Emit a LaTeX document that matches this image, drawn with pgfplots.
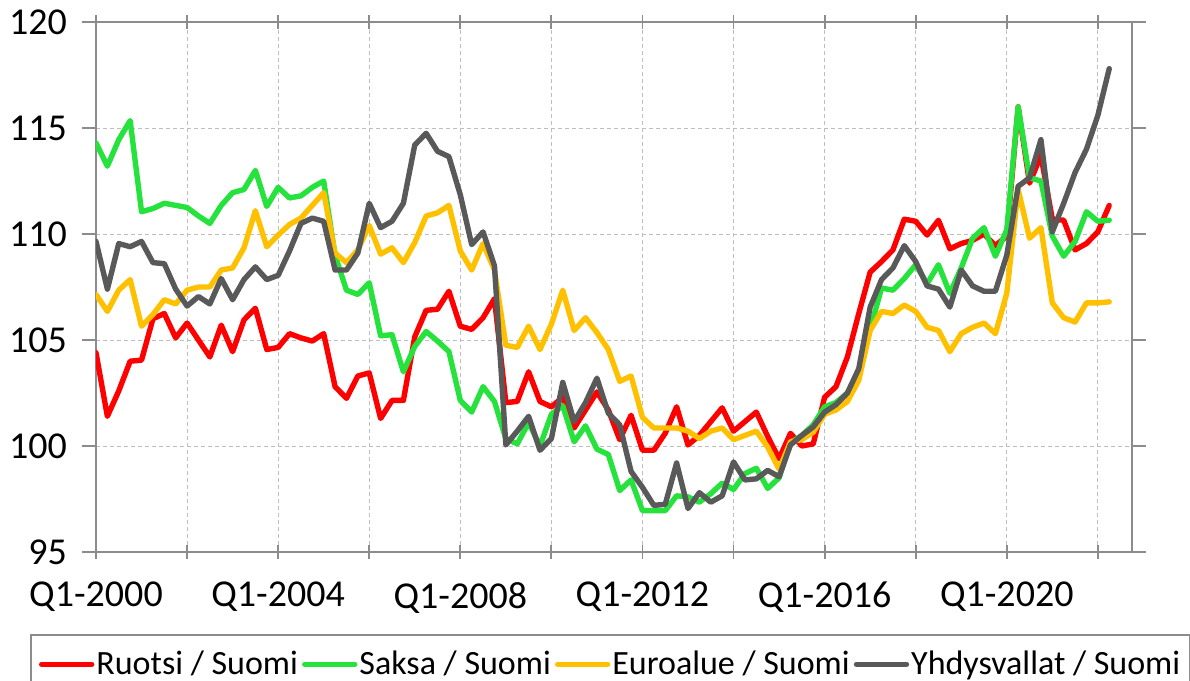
\documentclass[border=0pt]{standalone}
\usepackage{fontspec}
\setmainfont{Carlito}
\usepackage{pgfplots}
\usepackage{pgfplotstable}
\pgfplotsset{compat=1.18}
\definecolor{cR}{RGB}{255,0,0}
\definecolor{cG}{RGB}{38,226,60}
\definecolor{cY}{RGB}{255,192,0}
\definecolor{cK}{RGB}{89,89,89}
\definecolor{axgray}{RGB}{140,140,140}
\definecolor{gridgray}{RGB}{190,190,190}
\pgfplotstableread{
i R G Y K
0 104.4 114.3 107.15 109.65
1 101.4 113.2 106.35 107.4
2 102.6 114.45 107.35 109.55
3 104.0 115.35 107.85 109.4
4 104.05 111.05 105.65 109.65
5 106.0 111.2 106.2 108.65
6 106.25 111.45 106.9 108.6
7 105.1 111.35 106.7 107.4
8 105.8 111.25 107.35 106.6
9 105.0 110.85 107.5 107.05
10 104.2 110.5 107.5 106.7
11 105.7 111.35 108.3 107.9
12 104.45 111.95 108.4 106.9
13 105.95 112.1 109.35 107.85
14 106.5 113.0 111.1 108.45
15 104.55 111.3 109.4 107.85
16 104.65 112.2 109.95 108.05
17 105.3 111.7 110.45 109.2
18 105.1 111.8 110.75 110.5
19 104.95 112.2 111.35 110.75
20 105.3 112.5 111.95 110.6
21 102.8 109.0 109.1 108.3
22 102.25 107.35 108.65 108.3
23 103.3 107.15 109.25 109.1
24 103.45 107.7 110.4 111.45
25 101.3 105.2 109.05 110.3
26 102.15 105.25 109.35 110.6
27 102.15 103.5 108.65 111.45
28 105.15 104.7 109.6 114.2
29 106.4 105.4 110.85 114.75
30 106.45 104.95 111.0 113.9
31 107.3 104.45 111.35 113.65
32 105.65 102.15 109.2 111.85
33 105.5 101.6 108.3 109.5
34 106.05 102.8 109.55 110.1
35 106.95 102.1 108.3 108.5
36 102.05 100.35 104.75 100.05
37 102.1 100.1 104.65 100.7
38 103.5 101.1 105.65 101.4
39 102.1 100.0 104.55 99.8
40 101.85 101.5 105.75 100.35
41 102.3 101.9 107.35 103.0
42 100.85 100.2 105.45 101.15
43 101.7 100.95 106.05 102.05
44 102.55 99.85 105.35 103.2
45 101.7 99.6 104.55 101.55
46 100.3 97.9 103.05 101.0
47 101.45 98.4 103.3 98.8
48 99.8 96.95 101.35 98.05
49 99.8 96.95 100.85 97.2
50 100.6 96.95 100.85 97.25
51 101.85 97.65 100.85 99.2
52 100.05 97.6 100.7 97.05
53 100.5 97.35 100.35 97.8
54 101.15 97.75 100.7 97.35
55 101.8 98.25 100.85 97.65
56 100.7 97.95 100.3 99.25
57 101.15 98.7 100.5 98.4
58 101.6 98.95 100.7 98.45
59 100.45 98.0 99.95 98.85
60 99.4 98.5 98.9 98.55
61 100.6 100.15 100.2 100.05
62 100.0 100.5 100.3 100.5
63 100.1 101.0 100.65 100.9
64 102.3 101.85 101.5 101.6
65 102.8 102.05 101.7 101.95
66 104.2 102.5 102.1 102.5
67 106.25 103.45 103.1 103.65
68 108.2 105.5 105.45 106.55
69 108.7 107.45 106.35 107.85
70 109.25 107.35 106.25 108.4
71 110.7 107.9 106.65 109.45
72 110.6 108.55 106.35 108.7
73 109.95 107.65 105.6 107.55
74 110.65 108.55 105.45 107.4
75 109.3 107.2 104.45 106.55
76 109.55 108.4 105.3 108.3
77 109.7 109.8 105.6 107.55
78 110.0 110.3 105.8 107.3
79 109.45 108.95 105.3 107.3
80 109.9 110.2 107.2 109.0
81 116.0 116.0 112.1 112.25
82 112.4 112.65 109.8 112.65
83 113.7 112.5 110.3 114.45
84 110.7 109.9 106.75 110.1
85 110.65 108.95 106.05 111.45
86 109.25 109.65 105.85 112.9
87 109.55 111.05 106.75 114.0
88 110.1 110.6 106.75 115.6
89 111.35 110.65 106.8 117.8
}\data

\begin{document}
\begin{tikzpicture}
\begin{axis}[
  scale only axis, width=518bp, height=265bp,
  xmin=0, xmax=91, ymin=95, ymax=120,
  xtick={0,8,...,88},
  xticklabels={Q1-2000,,Q1-2004,,Q1-2008,,Q1-2012,,Q1-2016,,Q1-2020,},
  ytick={95,100,...,120},
  xtick align=center, ytick align=outside,
  major tick length=7bp,
  tick style={axgray, line width=0.9bp},
  axis line style={axgray, line width=1bp},
  grid=major,
  grid style={gridgray, line width=0.5bp, dash pattern=on 2bp off 1.5bp},
  font=\fontsize{17bp}{20bp}\selectfont,
  /pgf/number format/assume math mode=true,
  yticklabel style={font=\fontsize{19bp}{22bp}\selectfont, text=black, xshift=-4bp},
  xticklabel style={font=\fontsize{19bp}{22bp}\selectfont, text=black, yshift=-8bp},
  every axis plot/.append style={line width=2.7bp, line join=round, line cap=round},
  legend columns=4,
  legend cell align=left,
  legend image code/.code={\draw[#1, line cap=round] (0bp,0bp) -- (25bp,0bp);},
  legend style={at={(axis description cs:0,0)}, anchor=north west,
    xshift=-33bp, yshift=-41bp, draw=axgray, line width=1bp,
    font=\fontsize{17bp}{20bp}\selectfont, inner xsep=4bp, inner ysep=6bp,
    nodes={inner xsep=1bp},
    /tikz/every odd column/.append style={column sep=0bp},
    /tikz/every even column/.append style={column sep=1bp}},
]
\addplot[color=cR] table[x=i, y=R] {\data};
\addlegendentry{Ruotsi / Suomi}
\addplot[color=cG] table[x=i, y=G] {\data};
\addlegendentry{Saksa / Suomi}
\addplot[color=cY] table[x=i, y=Y] {\data};
\addlegendentry{Euroalue / Suomi}
\addplot[color=cK] table[x=i, y=K] {\data};
\addlegendentry{Yhdysvallat / Suomi}
\end{axis}
\pgfresetboundingbox
\useasboundingbox (-48bp,-64.5bp) rectangle (547bp,276bp);
\end{tikzpicture}
\end{document}
